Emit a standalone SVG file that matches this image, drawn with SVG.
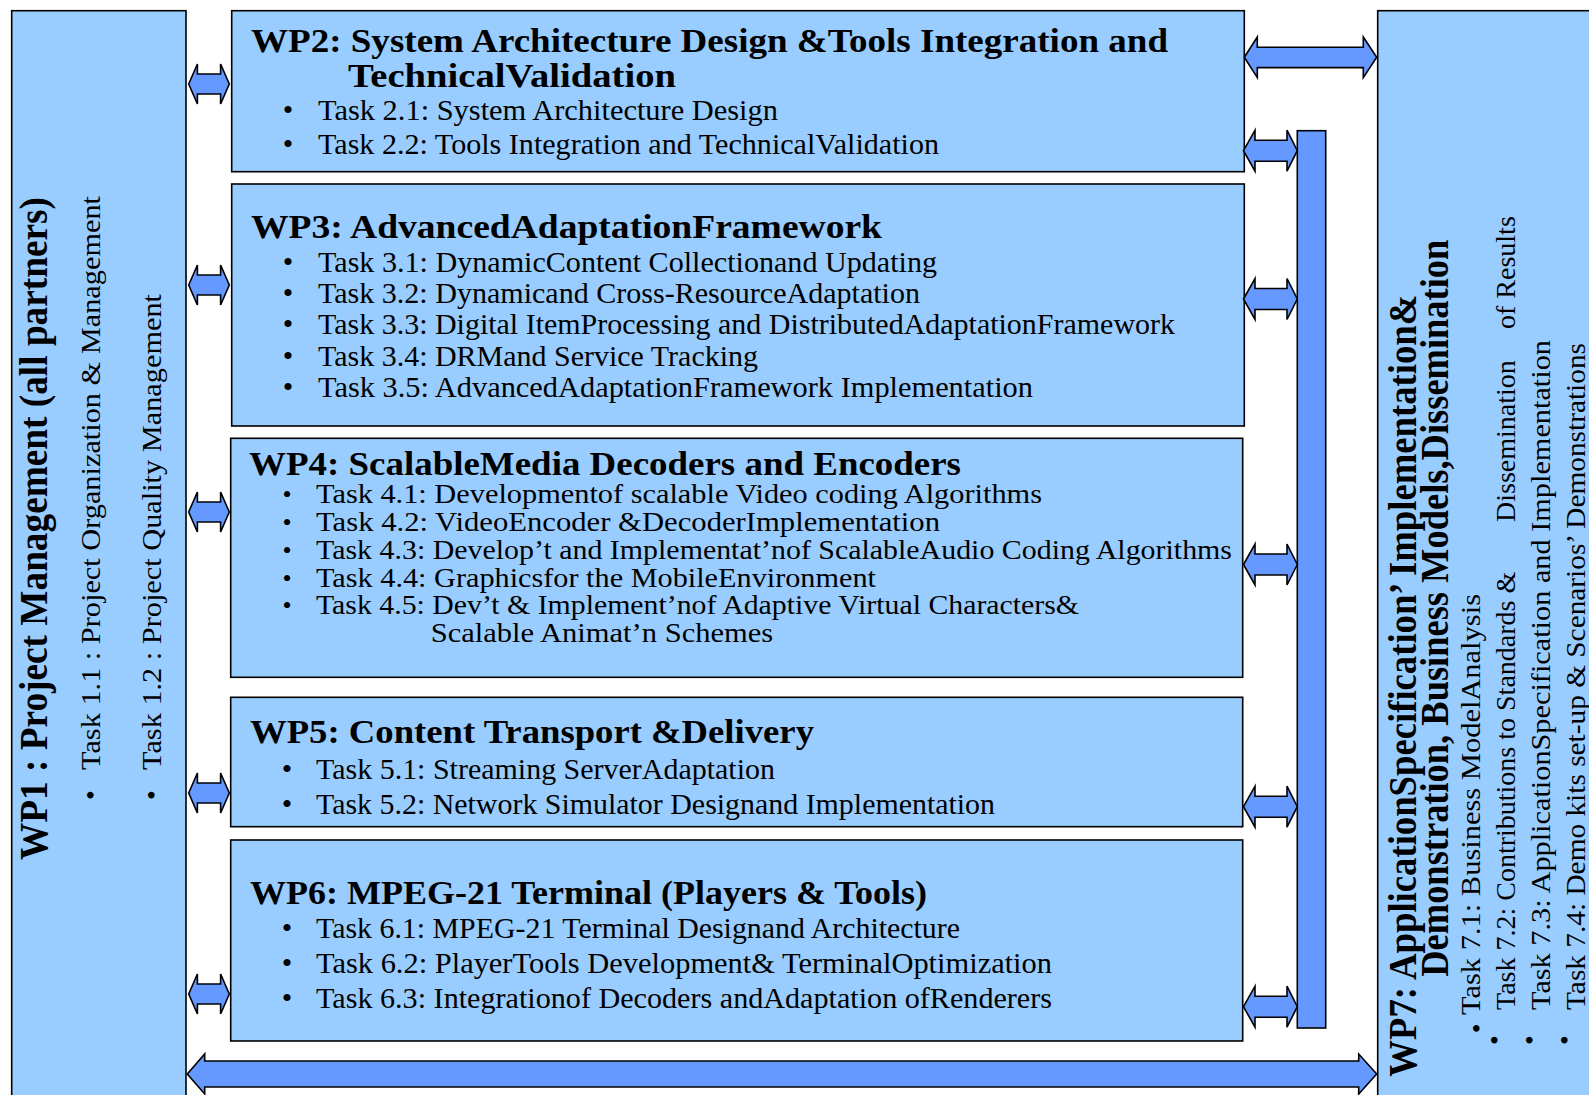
<svg xmlns="http://www.w3.org/2000/svg" width="1589" height="1095" viewBox="0 0 1589 1095">
  <style>
    .box{fill:#99CCFF;stroke:#000;stroke-width:1.6}
    .arw{fill:#6699FF;stroke:#000;stroke-width:1.6;stroke-linejoin:miter}
    .ttl{font-family:"Liberation Serif","Times New Roman",serif;font-weight:bold;font-size:34px;fill:#000}
    .task{font-family:"Liberation Serif","Times New Roman",serif;font-size:30px;fill:#000}
    .task4{font-family:"Liberation Serif","Times New Roman",serif;font-size:27px;fill:#000}
    .bul{font-family:"Liberation Serif","Times New Roman",serif;font-size:30px;fill:#000;text-anchor:middle}
    .bul4{font-family:"Liberation Serif","Times New Roman",serif;font-size:26px;fill:#000;text-anchor:middle}
    .vttl{font-family:"Liberation Serif","Times New Roman",serif;font-weight:bold;font-size:39px;fill:#000}
    .vtask{font-family:"Liberation Serif","Times New Roman",serif;font-size:28px;fill:#000}
    .vbul{font-family:"Liberation Serif","Times New Roman",serif;font-size:28px;fill:#000;text-anchor:middle}
  </style>
  <defs>
    <!-- short double arrow between WP1 and the work package boxes -->
    <path id="arrL" class="arw" d="M188.7,0 L197.4,-20 L197.4,-10 L220.6,-10 L220.6,-20 L229.3,0 L220.6,20 L220.6,10 L197.4,10 L197.4,20 Z"/>
    <!-- short double arrow between the boxes and the vertical bus -->
    <path id="arrR" class="arw" d="M1243.5,0 L1255,-20.5 L1255,-10.5 L1287,-10.5 L1287,-20.5 L1297.3,0 L1287,20.5 L1287,10.5 L1255,10.5 L1255,20.5 Z"/>
  </defs>
  <rect width="1589" height="1095" fill="#fff"/>

  <!-- WP1: project management column (left) -->
  <g id="wp1">
    <rect class="box" x="11.7" y="10.7" width="174.3" height="1100"/>
    <text class="vttl" transform="translate(46.7,860) rotate(-90)" textLength="663" lengthAdjust="spacingAndGlyphs">WP1 : Project Management (all partners)</text>
    <text class="vbul" transform="translate(99.5,795) rotate(-90)">•</text>
    <text class="vtask" transform="translate(100,770) rotate(-90)" textLength="574" lengthAdjust="spacingAndGlyphs">Task 1.1 : Project Organization &amp; Management</text>
    <text class="vbul" transform="translate(161,795) rotate(-90)">•</text>
    <text class="vtask" transform="translate(161,770) rotate(-90)" textLength="476" lengthAdjust="spacingAndGlyphs">Task 1.2 : Project Quality Management</text>
  </g>

  <!-- WP2 -->
  <g id="wp2">
    <rect class="box" x="231.7" y="10.7" width="1012.6" height="161"/>
    <text class="ttl" x="251" y="51.5" textLength="917" lengthAdjust="spacingAndGlyphs">WP2: System Architecture Design &amp;Tools Integration and</text>
    <text class="ttl" x="348" y="87" textLength="328" lengthAdjust="spacingAndGlyphs">TechnicalValidation</text>
    <text class="bul" x="288" y="119.5">•</text>
    <text class="task" x="318" y="119.5" textLength="460" lengthAdjust="spacingAndGlyphs">Task 2.1: System Architecture Design</text>
    <text class="bul" x="288" y="154.3">•</text>
    <text class="task" x="318" y="154.3" textLength="621" lengthAdjust="spacingAndGlyphs">Task 2.2: Tools Integration and TechnicalValidation</text>
  </g>

  <!-- WP3 -->
  <g id="wp3">
    <rect class="box" x="231.7" y="184" width="1012.6" height="242"/>
    <text class="ttl" x="251" y="238" textLength="631" lengthAdjust="spacingAndGlyphs">WP3: AdvancedAdaptationFramework</text>
    <text class="bul" x="288" y="271.5">•</text>
    <text class="task" x="318" y="271.5" textLength="619" lengthAdjust="spacingAndGlyphs">Task 3.1: DynamicContent Collectionand Updating</text>
    <text class="bul" x="288" y="303">•</text>
    <text class="task" x="318" y="303" textLength="602" lengthAdjust="spacingAndGlyphs">Task 3.2: Dynamicand Cross-ResourceAdaptation</text>
    <text class="bul" x="288" y="334.3">•</text>
    <text class="task" x="318" y="334.3" textLength="857" lengthAdjust="spacingAndGlyphs">Task 3.3: Digital ItemProcessing and DistributedAdaptationFramework</text>
    <text class="bul" x="288" y="365.7">•</text>
    <text class="task" x="318" y="365.7" textLength="440" lengthAdjust="spacingAndGlyphs">Task 3.4: DRMand Service Tracking</text>
    <text class="bul" x="288" y="397">•</text>
    <text class="task" x="318" y="397" textLength="715" lengthAdjust="spacingAndGlyphs">Task 3.5: AdvancedAdaptationFramework Implementation</text>
  </g>

  <!-- WP4 -->
  <g id="wp4">
    <rect class="box" x="230.7" y="438.3" width="1012" height="239"/>
    <text class="ttl" x="249" y="474.5" textLength="712" lengthAdjust="spacingAndGlyphs">WP4: ScalableMedia Decoders and Encoders</text>
    <text class="bul4" x="287" y="503">•</text>
    <text class="task4" x="316" y="503" textLength="726" lengthAdjust="spacingAndGlyphs">Task 4.1: Developmentof scalable Video coding Algorithms</text>
    <text class="bul4" x="287" y="531">•</text>
    <text class="task4" x="316" y="531" textLength="624" lengthAdjust="spacingAndGlyphs">Task 4.2: VideoEncoder &amp;DecoderImplementation</text>
    <text class="bul4" x="287" y="558.5">•</text>
    <text class="task4" x="316" y="558.5" textLength="916" lengthAdjust="spacingAndGlyphs">Task 4.3: Develop’t and Implementat’nof ScalableAudio Coding Algorithms</text>
    <text class="bul4" x="287" y="586.5">•</text>
    <text class="task4" x="316" y="586.5" textLength="560" lengthAdjust="spacingAndGlyphs">Task 4.4: Graphicsfor the MobileEnvironment</text>
    <text class="bul4" x="287" y="614">•</text>
    <text class="task4" x="316" y="614" textLength="763" lengthAdjust="spacingAndGlyphs">Task 4.5: Dev’t &amp; Implement’nof Adaptive Virtual Characters&amp;</text>
    <text class="task4" x="430.7" y="642" textLength="342.5" lengthAdjust="spacingAndGlyphs">Scalable Animat’n Schemes</text>
  </g>

  <!-- WP5 -->
  <g id="wp5">
    <rect class="box" x="230.7" y="697.3" width="1012" height="129.4"/>
    <text class="ttl" x="250" y="743" textLength="564" lengthAdjust="spacingAndGlyphs">WP5: Content Transport &amp;Delivery</text>
    <text class="bul" x="287" y="779">•</text>
    <text class="task" x="316" y="779" textLength="459" lengthAdjust="spacingAndGlyphs">Task 5.1: Streaming ServerAdaptation</text>
    <text class="bul" x="287" y="813.5">•</text>
    <text class="task" x="316" y="813.5" textLength="679" lengthAdjust="spacingAndGlyphs">Task 5.2: Network Simulator Designand Implementation</text>
  </g>

  <!-- WP6 -->
  <g id="wp6">
    <rect class="box" x="230.7" y="840" width="1012" height="201"/>
    <text class="ttl" x="250" y="903.5" textLength="677" lengthAdjust="spacingAndGlyphs">WP6: MPEG-21 Terminal (Players &amp; Tools)</text>
    <text class="bul" x="287" y="938">•</text>
    <text class="task" x="316" y="938" textLength="644" lengthAdjust="spacingAndGlyphs">Task 6.1: MPEG-21 Terminal Designand Architecture</text>
    <text class="bul" x="287" y="973">•</text>
    <text class="task" x="316" y="973" textLength="736" lengthAdjust="spacingAndGlyphs">Task 6.2: PlayerTools Development&amp; TerminalOptimization</text>
    <text class="bul" x="287" y="1008">•</text>
    <text class="task" x="316" y="1008" textLength="736" lengthAdjust="spacingAndGlyphs">Task 6.3: Integrationof Decoders andAdaptation ofRenderers</text>
  </g>

  <!-- WP7: application / dissemination column (right) -->
  <g id="wp7">
    <rect class="box" x="1377.7" y="10.7" width="230" height="1100"/>
    <text class="vttl" transform="translate(1416,1076.7) rotate(-90)" textLength="782" lengthAdjust="spacingAndGlyphs">WP7: ApplicationSpecification’ Implementation&amp;</text>
    <text class="vttl" transform="translate(1448,976.7) rotate(-90)" textLength="737" lengthAdjust="spacingAndGlyphs">Demonstration, Business Models,Dissemination</text>
    <text class="vbul" transform="translate(1486,1028.3) rotate(-90)">•</text>
    <text class="vtask" transform="translate(1480,1015) rotate(-90)" textLength="421" lengthAdjust="spacingAndGlyphs">Task 7.1: Business ModelAnalysis</text>
    <text class="vbul" transform="translate(1504,1040) rotate(-90)">•</text>
    <text class="vtask" transform="translate(1515,1010) rotate(-90)"><tspan x="0">Task 7.2: Contributions to Standards &amp;</tspan><tspan x="488">Dissemination</tspan><tspan x="681">of Results</tspan></text>
    <text class="vbul" transform="translate(1539,1040) rotate(-90)">•</text>
    <text class="vtask" transform="translate(1550,1010) rotate(-90)" textLength="670" lengthAdjust="spacingAndGlyphs">Task 7.3: ApplicationSpecification and Implementation</text>
    <text class="vbul" transform="translate(1574,1040) rotate(-90)">•</text>
    <text class="vtask" transform="translate(1585,1010) rotate(-90)" textLength="667" lengthAdjust="spacingAndGlyphs">Task 7.4: Demo kits set-up &amp; Scenarios’ Demonstrations</text>
  </g>

  <!-- connectors: double arrows and the vertical bus bar -->
  <g id="connectors">
    <use href="#arrL" y="84"/>
    <use href="#arrL" y="285"/>
    <use href="#arrL" y="512"/>
    <use href="#arrL" y="793"/>
    <use href="#arrL" y="994"/>
    <rect class="arw" x="1297.3" y="130.7" width="28.4" height="897.3"/>
    <use href="#arrR" y="150.7"/>
    <use href="#arrR" y="299"/>
    <use href="#arrR" y="564.5"/>
    <use href="#arrR" y="806.7"/>
    <use href="#arrR" y="1006.7"/>
    <path class="arw" d="M1244.3,57.3 L1257.3,37 L1257.3,47.3 L1363.3,47.3 L1363.3,37 L1376.7,57.3 L1363.3,77.6 L1363.3,67.6 L1257.3,67.6 L1257.3,77.6 Z"/>
    <path class="arw" d="M187.3,1074 L204.7,1054 L204.7,1061 L1358.7,1061 L1358.7,1054 L1376.7,1074 L1358.7,1094 L1358.7,1087 L204.7,1087 L204.7,1094 Z"/>
  </g>
</svg>
